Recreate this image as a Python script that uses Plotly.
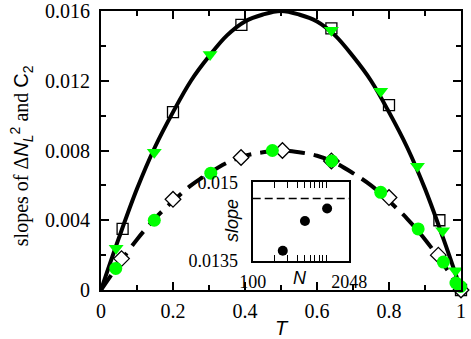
import plotly.graph_objects as go

# ---- main panel data ----
curve_T = [0, 0.05, 0.1, 0.15, 0.2, 0.25, 0.3, 0.35, 0.4, 0.45, 0.5,
           0.55, 0.6, 0.65, 0.7, 0.75, 0.8, 0.85, 0.9, 0.95, 1.0]
solid_y = [0, 0.0030, 0.0058, 0.0082, 0.0102, 0.0120, 0.0134, 0.0146, 0.0154, 0.0158, 0.0160,
           0.0158, 0.0154, 0.0146, 0.0134, 0.0120, 0.0102, 0.0082, 0.0058, 0.0030, 0]
dashed_y = [0, 0.0015, 0.0029, 0.0041, 0.0051, 0.0060, 0.0067, 0.0073, 0.0077, 0.0079, 0.0080,
            0.0079, 0.0077, 0.0073, 0.0067, 0.0060, 0.0051, 0.0041, 0.0029, 0.0015, 0]

square_T = [0.06, 0.2, 0.39, 0.64, 0.8, 0.94, 1.0]
square_y = [0.0035, 0.0102, 0.0152, 0.0150, 0.0106, 0.0040, 0.0]

triangle_T = [0.042, 0.148, 0.303, 0.64, 0.777, 0.879, 0.949, 0.985]
triangle_y = [0.0024, 0.0079, 0.0135, 0.0149, 0.0114, 0.0071, 0.0034, 0.0011]

diamond_T = [0.057, 0.2, 0.389, 0.504, 0.64, 0.8, 0.937, 1.0]
diamond_y = [0.0018, 0.0052, 0.0076, 0.0080, 0.0074, 0.0053, 0.0020, 0.0]

circle_T = [0.041, 0.148, 0.305, 0.476, 0.641, 0.777, 0.881, 0.951, 0.986, 0.999]
circle_y = [0.00124, 0.0040, 0.0067, 0.0080, 0.0074, 0.0056, 0.0035, 0.0016, 0.0004, 0.0002]

# ---- inset data ----
inset_N = [256, 512, 1024, 2048]
inset_slope = [0.01369, 0.01426, 0.01450, 0.01465]
limit_N = [100, 2048]
limit_slope = [0.01469, 0.01469]
inset_ticks = [100, 200, 300, 400, 500, 600, 700, 800, 900, 1000, 2048]
inset_ticktext = ["100", "", "", "", "", "", "", "", "", "", "2048"]

GREEN = "#00ff00"
SERIF = "Liberation Serif"
SANS = "Liberation Sans"

fig = go.Figure()

fig.add_trace(go.Scatter(x=curve_T, y=solid_y, mode="lines", line=dict(color="black", width=4, shape="spline"),
                         xaxis="x", yaxis="y", hoverinfo="skip"))
fig.add_trace(go.Scatter(x=curve_T, y=dashed_y, mode="lines",
                         line=dict(color="black", width=4, shape="spline", dash="18px,9px"),
                         xaxis="x", yaxis="y", hoverinfo="skip"))
fig.add_trace(go.Scatter(x=square_T, y=square_y, mode="markers", cliponaxis=False,
                         marker=dict(symbol="square-open", size=11, color="black", line=dict(width=1.3))))
fig.add_trace(go.Scatter(x=diamond_T, y=diamond_y, mode="markers", cliponaxis=False,
                         marker=dict(symbol="diamond", size=12, color="white", line=dict(width=1.3, color="black"))))
fig.add_trace(go.Scatter(x=triangle_T, y=triangle_y, mode="markers", cliponaxis=False,
                         marker=dict(symbol="triangle-down", size=13, color=GREEN, line=dict(width=0))))
fig.add_trace(go.Scatter(x=circle_T, y=circle_y, mode="markers", cliponaxis=False,
                         marker=dict(symbol="circle", size=13, color=GREEN, line=dict(width=0))))

# inset
fig.add_trace(go.Scatter(x=limit_N, y=limit_slope, mode="lines", xaxis="x2", yaxis="y2",
                         line=dict(color="black", width=1.5, dash="8px,4px")))
fig.add_trace(go.Scatter(x=inset_N, y=inset_slope, mode="markers", xaxis="x2", yaxis="y2", cliponaxis=False,
                         marker=dict(symbol="circle", size=10, color="black")))

axis_common = dict(showline=True, linecolor="black", linewidth=2, mirror="ticks", ticks="inside",
                   tickcolor="black", tickwidth=1.5, showgrid=False, zeroline=False, automargin=False,
                   tickangle=0, tickfont=dict(family=SERIF, size=20, color="black"))

fig.update_layout(
    width=471, height=339,
    margin=dict(l=101, r=10, t=11, b=49),
    paper_bgcolor="white", plot_bgcolor="white",
    showlegend=False,
    xaxis=dict(domain=[0, 1], range=[0, 1], tickvals=[0, 0.2, 0.4, 0.6, 0.8, 1.0],
               ticktext=["0", "0.2", "0.4", "0.6", "0.8", "1"], ticklen=8,
               minor=dict(tickvals=[0.1, 0.3, 0.5, 0.7, 0.9], ticks="inside", ticklen=5,
                          tickcolor="black", tickwidth=1.5),
               ticklabelstandoff=2, **axis_common),
    yaxis=dict(domain=[0, 1], range=[0, 0.016], tickvals=[0, 0.004, 0.008, 0.012, 0.016],
               ticktext=["0", "0.004", "0.008", "0.012", "0.016"], ticklen=8,
               minor=dict(tickvals=[0.002, 0.006, 0.010, 0.014], ticks="inside", ticklen=5,
                          tickcolor="black", tickwidth=1.5),
               ticklabelstandoff=5, **axis_common),
    xaxis2=dict(domain=[0.4214, 0.6897], anchor="y2", type="log", range=[2, 3.3113],
                tickmode="array", tickvals=inset_ticks, ticktext=inset_ticktext, ticklen=6,
                showline=True, linecolor="black", linewidth=2, mirror="ticks", ticks="inside",
                tickcolor="black", tickwidth=1.2, showgrid=False, zeroline=False, automargin=False,
                ticklabelstandoff=4, ticklabeloverflow="allow", tickangle=0,
                tickfont=dict(family=SERIF, size=18, color="black")),
    yaxis2=dict(domain=[0.105, 0.386], anchor="x2", range=[0.0135, 0.015],
                tickvals=[0.0135, 0.015], ticktext=["0.0135", "0.015"], ticklen=5,
                showline=True, linecolor="black", linewidth=2, mirror="ticks", ticks="inside",
                tickcolor="black", tickwidth=1.2, showgrid=False, zeroline=False, automargin=False,
                ticklabelstandoff=9, ticklabeloverflow="allow", tickangle=0,
                tickfont=dict(family=SERIF, size=18, color="black")),
    annotations=[
        dict(text="<i>T</i>", xref="paper", yref="paper", x=0.502, y=-0.136,
             xanchor="center", yanchor="middle", showarrow=False,
             font=dict(family=SANS, size=20, color="black")),
        dict(text=("slopes of Δ<span style='font-family:Liberation Sans'><i>N</i></span>"
                   "<sub><span style='font-family:Liberation Sans'><i>L</i></span></sub>"
                   "<sup><span style='font-family:Liberation Sans'>2</span></sup> and "
                   "<span style='font-family:Liberation Sans'>C<sub>2</sub></span>"),
             xref="paper", yref="paper", x=-0.222, y=0.48, textangle=-90,
             xanchor="center", yanchor="middle", showarrow=False,
             font=dict(family=SERIF, size=20, color="black")),
        dict(text="<i>N</i>", xref="paper", yref="paper", x=0.553, y=0.043,
             xanchor="center", yanchor="middle", showarrow=False,
             font=dict(family=SANS, size=18, color="black")),
        dict(text="<i>slope</i>", xref="paper", yref="paper", x=(232 - 101) / 360, y=(290 - 221) / 279,
             textangle=-90, xanchor="center", yanchor="middle", showarrow=False,
             font=dict(family=SANS, size=18, color="black")),
    ],
)

fig.write_html("out.html", config={"displayModeBar": False},
               post_script="document.body.style.margin='0';")
